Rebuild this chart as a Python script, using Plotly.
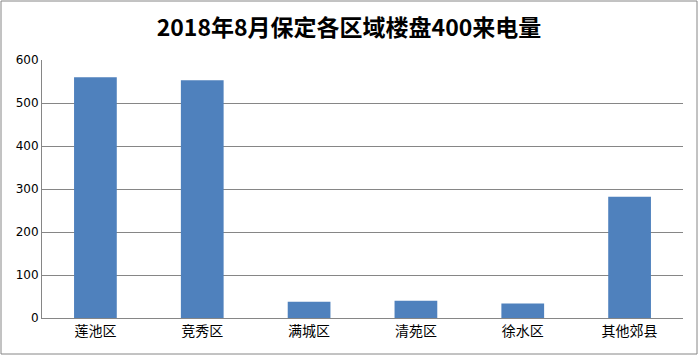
import plotly.graph_objects as go

categories = ["莲池区", "竞秀区", "满城区", "清苑区", "徐水区", "其他郊县"]
values = [560, 553, 38, 40, 34, 282]
title_text = "2018年8月保定各区域楼盘400来电量"

W, H = 698, 355
ml, mr, mt, mb = 42, 15, 60, 37
pw, ph = W - ml - mr, H - mt - mb

fig = go.Figure(go.Bar(x=categories, y=values, marker=dict(color="#4F81BD", line=dict(width=0)), width=0.4))

fig.update_layout(
    width=W, height=H,
    margin=dict(l=ml, r=mr, t=mt, b=mb),
    paper_bgcolor="white", plot_bgcolor="white",
    title=dict(text="<b>" + title_text + "</b>", x=0.5, xanchor="center", y=1 - 28 / H, yanchor="middle",
               font=dict(family="Noto Sans CJK SC", size=23, color="black")),
    showlegend=False,
    xaxis=dict(showline=True, linecolor="#868686", linewidth=1, ticks="", showgrid=False,
               tickfont=dict(family="Noto Sans CJK SC", size=14, color="black")),
    yaxis=dict(range=[0, 600], dtick=100, showline=True, linecolor="#868686", linewidth=1,
               showgrid=True, gridcolor="#868686", gridwidth=1, zeroline=False, ticks="",
               tickfont=dict(family="Verdana, DejaVu Sans", size=12, color="black")),
)

# outer border of the chart
x0 = (-ml + 1) / pw
x1 = 1 + (mr - 1) / pw
y0 = (-mb + 1) / ph
y1 = 1 + (mt - 1) / ph
fig.add_shape(type="rect", xref="paper", yref="paper", x0=x0, x1=x1, y0=y0, y1=y1,
              line=dict(color="#868686", width=1), fillcolor="rgba(0,0,0,0)", layer="above")

fig.write_html("out.html")
